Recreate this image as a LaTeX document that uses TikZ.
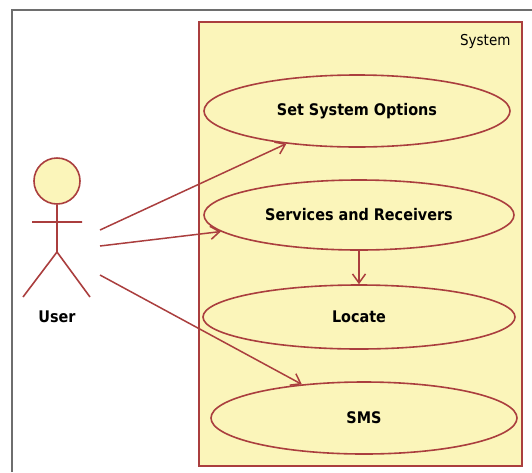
\documentclass[tikz,border=0pt]{standalone}
\usepackage{fontspec}
\setmainfont{DejaVu Sans Condensed}
\usepackage{xcolor}
\usepackage{tikz}
\usetikzlibrary{shapes.geometric,arrows.meta}
\definecolor{umlred}{RGB}{170,62,62}
\definecolor{umlyellow}{RGB}{251,245,186}
\definecolor{framegray}{RGB}{110,110,110}

\begin{document}
\begin{tikzpicture}[x=1pt, y=-1pt,
        usecase/.style={ellipse, draw=umlred, fill=umlyellow, line width=1.6pt, inner sep=0pt,
            font=\bfseries\fontsize{16}{18}\selectfont},
        link/.style={draw=umlred, line width=1.5pt, -{Straight Barb[length=9pt,width=13pt]}}]
        \useasboundingbox (0,0) rectangle (532,472);

        \draw[framegray, line width=1.5pt] (12,472) -- (12,10) -- (532,10);
        \draw[umlred, fill=umlyellow, line width=1.8pt] (199,22) rectangle (522,466);
        \node[anchor=east, font=\fontsize{15}{17}\selectfont] (sys) at (514,41) {System};

        \node[usecase, minimum width=306pt, minimum height=72pt] (opts) at (357,111) {Set System Options};
        \node[usecase, minimum width=310pt, minimum height=70pt] (svc) at (359,215) {Services and Receivers};
        \node[usecase, minimum width=312pt, minimum height=64pt] (loc) at (359,317) {Locate};
        \node[usecase, minimum width=306pt, minimum height=72pt] (sms) at (364,418) {SMS};

        \node[circle, draw=umlred, fill=umlyellow, line width=1.6pt, minimum size=46pt, inner sep=0pt] (head) at (57,181) {};
        \coordinate (hip) at (57,252);
        \coordinate (larm) at (32,222);
        \coordinate (rarm) at (82,222);
        \coordinate (lfoot) at (23,297);
        \coordinate (rfoot) at (90,297);
        \draw[umlred, line width=1.6pt] (head.south) -- (hip) -- (lfoot) (hip) -- (rfoot) (larm) -- (rarm);
        \node[font=\bfseries\fontsize{16}{18}\selectfont] (user) at (57,317) {User};

        \coordinate (u1) at (100,230);
        \coordinate (u2) at (100,246);
        \coordinate (u3) at (100,275);
        \draw[link] (u1) -- (opts);
        \draw[link] (u2) -- (svc);
        \draw[link] (u3) -- (sms);
        \draw[link] (svc.south) -- (loc.north);

    \end{tikzpicture}
\end{document}
